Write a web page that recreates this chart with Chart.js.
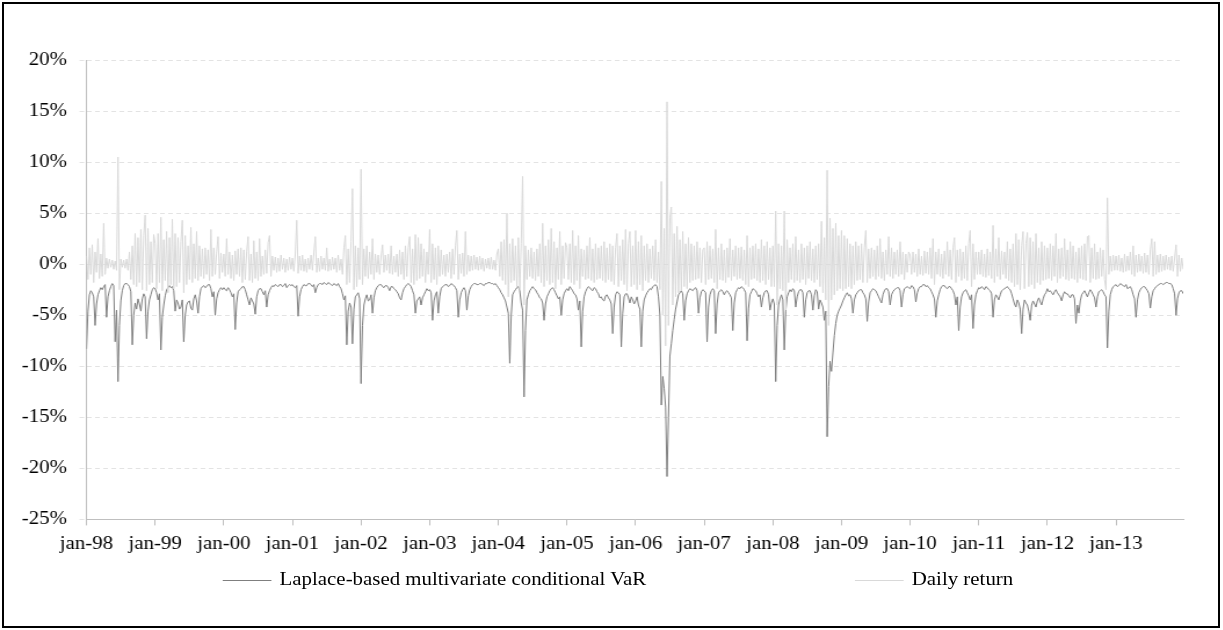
<!DOCTYPE html>
<html>
<head>
<meta charset="utf-8">
<script src="https://cdn.jsdelivr.net/npm/chart.js@4.4.0/dist/chart.umd.min.js"></script>
<style>
  body { margin: 0; background: #fff; }
  #area { position: absolute; left: 0; top: 0; width: 1054px; height: 630px; transform: scaleX(1.16); transform-origin: 0 0; }
  #graficoVaR { position: absolute; left: 0; top: 0; }
  .legenda { position: absolute; top: 568px; font: 18px 'Liberation Serif', 'Times New Roman', serif; line-height: 22px; color: #000; white-space: nowrap; }
  .legenda .linha { display: inline-block; width: 42px; height: 0; border-top: 1px solid; vertical-align: middle; margin-right: 7px; }
  #moldura { position: absolute; left: 2px; top: 2px; width: 1214px; height: 622px; border: 2px solid #000; }
</style>
</head>
<body>
<div id="area">
  <canvas id="graficoVaR" width="1054" height="568"></canvas>
</div>
<div id="moldura"></div>
<script>
const anos = [1998, 1999, 2000, 2001, 2002, 2003, 2004, 2005, 2006, 2007, 2008, 2009, 2010, 2011, 2012, 2013];
const rotulosAnos = anos.map(a => 'jan-' + String(a).slice(2));
const rotulosY = ['-25%', '-20%', '-15%', '-10%', '-5%', '0%', '5%', '10%', '15%', '20%'];
const obsPorAno = 48;

// VaR (%), 48 observações por ano
const varLaplace = [
  -8.3,-4.6,-3.0,-2.6, -2.8,-3.2,-6.0,-3.9, -3.0,-2.6,-2.3,-2.5, -2.2,-2.0,-5.2,-3.2, -2.6,-2.2,-1.9,-2.1, -7.6,-4.5,-11.5,-6.0,
  -3.6,-2.6,-2.1,-1.9, -1.9,-2.0,-2.2,-2.7, -7.9,-5.0,-3.8,-4.4, -3.4,-3.9,-4.6,-3.4, -2.9,-3.2,-7.3,-4.6, -3.5,-3.0,-2.5,-2.3,
  // 1999
  -2.4,-2.8,-3.5,-2.9, -8.4,-5.2,-4.0,-3.1, -2.5,-2.3,-2.1,-2.3, -2.2,-2.6,-4.6,-3.5, -3.8,-4.4,-4.2,-3.5, -7.6,-5.0,-4.0,-3.7,
  -3.6,-4.3,-4.5,-3.4, -3.0,-3.6,-4.8,-3.2, -2.4,-2.2,-2.1,-2.3, -2.2,-2.0,-2.0,-2.4, -3.2,-2.7,-5.0,-3.4, -2.8,-2.5,-2.3,-2.5,
  // 2000
  -2.3,-2.5,-2.6,-2.3, -2.5,-2.8,-3.2,-2.9, -6.4,-3.8,-2.7,-2.5, -2.4,-2.2,-2.2,-2.5, -3.0,-3.5,-4.0,-3.3, -3.6,-3.9,-4.9,-3.2,
  -2.6,-2.4,-2.4,-2.7, -3.0,-2.6,-4.2,-3.0, -2.6,-2.3,-2.1,-2.2, -2.0,-2.1,-2.2,-2.0, -2.0,-2.2,-2.1,-1.9, -2.3,-2.1,-2.0,-2.1,
  // 2001
  -2.0,-2.2,-2.3,-2.1, -5.1,-3.2,-2.5,-2.2, -2.0,-2.1,-2.1,-1.9, -1.9,-2.0,-2.2,-2.0, -2.8,-2.3,-2.0,-1.9, -1.9,-2.0,-1.8,-1.9,
  -2.0,-1.8,-1.9,-2.0, -2.1,-1.9,-2.0,-2.1, -1.9,-2.2,-2.4,-2.9, -3.5,-3.1,-7.9,-4.6, -3.8,-4.2,-7.8,-4.4, -3.2,-3.0,-2.8,-3.4,
  // 2002
  -11.7,-6.0,-4.0,-3.4, -3.0,-3.6,-3.5,-3.0, -4.8,-3.3,-2.6,-2.3, -2.1,-2.0,-2.0,-2.2, -2.3,-2.1,-2.1,-2.3, -2.6,-2.2,-2.2,-2.4,
  -2.5,-2.7,-2.9,-3.3, -3.5,-2.8,-2.4,-2.2, -2.0,-1.9,-2.0,-2.2, -2.6,-3.0,-4.8,-3.6, -3.4,-3.2,-4.0,-3.3, -3.0,-2.7,-2.4,-2.6,
  // 2003
  -2.5,-2.8,-5.5,-3.6, -3.0,-2.7,-4.8,-3.2, -2.4,-2.2,-2.1,-2.0, -2.0,-2.2,-2.1,-1.9, -2.0,-2.1,-2.3,-2.6, -5.2,-3.5,-2.8,-2.5,
  -2.3,-2.6,-4.5,-3.1, -2.5,-2.2,-2.0,-1.9, -1.9,-2.0,-2.0,-1.9, -1.9,-2.0,-2.1,-1.9, -1.9,-1.8,-1.8,-1.9, -1.9,-2.0,-1.9,-2.1,
  // 2004
  -2.3,-2.5,-2.8,-3.0, -3.3,-3.6,-4.2,-4.8, -9.7,-5.0,-3.0,-2.7, -2.5,-2.3,-2.2,-2.6, -3.8,-4.5,-13.0,-6.5, -3.5,-3.0,-2.6,-2.4,
  -2.2,-2.4,-2.5,-2.8, -3.0,-3.3,-3.4,-3.8, -5.5,-3.9,-3.2,-2.9, -2.6,-2.4,-2.3,-2.5, -2.8,-3.1,-3.4,-3.2, -5.0,-3.5,-2.9,-2.6,
  // 2005
  -2.4,-2.6,-2.2,-2.4, -2.6,-2.9,-3.0,-3.4, -4.5,-3.6,-8.1,-4.6, -3.2,-2.7,-2.4,-2.2, -2.3,-2.5,-2.6,-2.3, -2.4,-2.7,-2.9,-3.3,
  -3.2,-3.5,-3.6,-3.1, -3.0,-3.3,-3.5,-3.9, -6.8,-4.2,-3.0,-2.7, -2.8,-3.0,-8.1,-4.8, -3.2,-2.9,-2.9,-3.3, -3.8,-3.2,-3.5,-3.9,
  // 2006
  -3.6,-3.2,-4.0,-4.4, -8.1,-4.6,-3.5,-3.1, -2.8,-2.6,-2.4,-2.5, -2.2,-2.1,-2.0,-2.2, -3.2,-5.0,-13.8,-11.0, -12.2,-14.0,-20.8,-15.0,
  -9.0,-7.8,-6.5,-5.4, -4.4,-3.7,-3.0,-2.8, -2.6,-2.9,-5.5,-3.6, -2.9,-2.6,-2.4,-2.5, -2.6,-2.4,-2.3,-2.6, -4.8,-3.3,-2.7,-2.5,
  // 2007
  -2.6,-2.8,-7.6,-4.2, -3.0,-2.6,-2.4,-2.6, -6.8,-3.9,-2.8,-2.6, -2.5,-2.7,-3.0,-2.7, -2.6,-2.8,-3.0,-3.3, -6.5,-3.8,-2.8,-2.5,
  -2.3,-2.4,-2.2,-2.3, -2.5,-2.8,-7.5,-4.3, -3.0,-2.7,-2.4,-2.5, -2.6,-2.9,-3.2,-3.0, -4.2,-3.3,-2.8,-2.6, -2.6,-3.0,-4.5,-3.8,
  // 2008
  -3.4,-3.9,-11.5,-6.0, -4.0,-3.4,-3.0,-3.5, -8.4,-4.6,-3.2,-2.8, -2.5,-2.7,-2.4,-2.6, -4.2,-3.2,-2.7,-2.5, -2.5,-2.8,-5.2,-3.5,
  -2.8,-2.6,-2.6,-3.0, -4.5,-3.1,-2.5,-2.7, -4.4,-3.5,-3.8,-4.2, -5.5,-4.6,-16.9,-12.0, -9.5,-10.5,-8.7,-7.0, -5.8,-5.0,-4.6,-4.3,
  // 2009
  -4.0,-3.6,-3.3,-3.0, -2.8,-3.1,-3.0,-3.4, -4.8,-3.5,-3.0,-2.8, -2.6,-2.5,-2.5,-2.8, -3.0,-3.4,-5.6,-3.7, -2.8,-2.6,-2.4,-2.5,
  -2.6,-2.9,-3.2,-3.5, -3.8,-3.0,-2.6,-2.4, -2.4,-2.7,-4.0,-3.0, -2.7,-2.5,-2.4,-2.3, -2.3,-2.6,-4.2,-3.0, -2.4,-2.3,-2.2,-2.3,
  // 2010
  -2.4,-2.1,-2.2,-2.5, -3.7,-2.8,-2.4,-2.2, -2.2,-2.0,-2.0,-2.2, -2.1,-2.3,-2.4,-2.7, -3.0,-3.4,-5.2,-3.6, -3.0,-2.5,-2.2,-2.1,
  -2.1,-2.3,-2.4,-2.2, -2.2,-2.4,-2.6,-3.0, -4.0,-3.2,-6.5,-4.2, -3.2,-2.8,-2.6,-2.5, -2.8,-3.1,-3.5,-3.0, -6.3,-4.0,-3.0,-2.6,
  // 2011
  -2.3,-2.4,-2.2,-2.3, -2.5,-2.2,-2.3,-2.5, -2.6,-2.9,-5.2,-3.5, -3.0,-3.2,-3.5,-3.0, -2.6,-2.5,-2.4,-2.3, -2.2,-2.4,-2.5,-2.9,
  -3.4,-3.9,-4.2,-3.5, -3.8,-4.4,-6.8,-4.4, -3.5,-3.8,-4.0,-4.6, -5.5,-4.0,-3.6,-3.9, -4.2,-3.6,-3.3,-3.7, -4.0,-3.4,-3.0,-2.8,
  // 2012
  -2.4,-2.7,-2.6,-2.8, -3.0,-2.7,-2.5,-2.8, -3.0,-3.2,-3.6,-3.0, -2.7,-2.9,-2.9,-3.1, -3.3,-3.0,-3.0,-3.4, -5.8,-4.0,-4.8,-3.6,
  -3.0,-2.8,-2.6,-2.9, -3.2,-2.8,-2.5,-2.7, -3.0,-3.3,-4.2,-3.2, -2.7,-2.6,-2.5,-2.7, -3.0,-3.2,-8.2,-4.6, -3.0,-2.5,-2.2,-2.1,
  // 2013
  -2.0,-2.2,-2.1,-1.9, -2.0,-2.1,-2.2,-2.0, -2.4,-2.3,-2.2,-2.5, -3.0,-3.4,-5.2,-3.5, -2.8,-2.5,-2.3,-2.2, -2.2,-2.4,-2.6,-2.9,
  -4.3,-3.2,-2.6,-2.4, -2.2,-2.1,-2.0,-1.9, -1.9,-2.0,-1.9,-1.8, -1.8,-1.9,-1.9,-2.0, -2.4,-2.9,-5.0,-3.4, -2.8,-2.6,-2.6,-2.9
];

// retorno diário (%), 48 observações por ano
const retornoDiario = [
  0.8,-1.5,1.6,-1.0,1.9,-1.8,1.2,-0.8,2.5,-1.4,1.0,-1.2,
  4.0,-1.0,0.6,-0.4,0.5,-0.3,0.4,-0.5,0.3,-0.6,10.5,-2.5,
  0.5,-0.3,0.4,-0.4,0.5,-0.6,1.2,-1.5,1.8,-2.0,3.0,-2.2,
  2.6,-1.8,3.4,-2.5,2.8,4.8,-2.6,3.5,-2.0,2.2,-1.8,2.9,
  // 1999
  2.0,-2.4,3.0,-1.8,4.6,-2.6,2.4,-1.6,3.2,-2.8,2.6,-2.0,
  4.4,-2.4,3.0,-2.2,2.6,-1.8,2.2,4.3,-2.8,2.8,-2.0,1.8,
  -1.5,3.6,-1.8,2.0,-1.4,3.2,-1.6,1.8,-1.2,1.5,-1.4,1.6,
  -1.0,1.4,-1.6,3.4,-1.2,1.6,-1.0,1.2,2.7,-1.4,1.1,-0.8,
  // 2000
  1.0,-1.2,2.5,-1.0,1.2,-1.4,0.9,-1.6,1.3,-1.0,1.5,-1.2,
  1.6,-1.8,1.4,-1.5,1.2,2.7,-1.6,1.0,-1.8,2.3,-1.4,1.2,
  -1.6,2.5,-1.2,0.8,-1.0,1.4,-0.9,2.1,2.8,-1.2,0.8,-0.6,
  0.7,-0.8,0.6,-0.7,0.9,-0.5,0.6,-0.8,0.5,-0.6,0.7,-0.5,
  // 2001
  0.6,-0.7,1.0,4.3,-0.9,0.8,-0.6,0.9,-0.7,0.5,-0.8,0.6,
  -0.5,0.9,-0.6,1.1,2.7,-0.8,0.6,-0.7,0.8,-0.5,0.6,-0.6,
  1.6,-0.7,0.5,-0.6,0.7,-0.5,0.6,-0.8,0.9,-0.6,0.5,-1.0,
  1.6,2.8,-2.0,1.5,-1.8,2.2,7.4,-2.5,1.8,-2.2,1.6,-1.5,
  // 2002
  9.3,-2.0,1.5,-1.2,1.8,-1.4,1.2,-1.0,2.5,-1.5,1.0,-0.8,
  0.9,-1.0,0.7,1.9,-0.8,0.9,-0.6,1.0,-0.9,1.8,-1.0,0.8,
  -0.8,1.0,-1.2,1.4,-1.0,1.2,-1.5,1.8,-1.2,1.6,2.7,-1.8,
  1.5,-2.0,2.9,-1.6,2.6,-1.4,2.0,-1.2,1.5,-1.8,1.2,-1.0,
  // 2003
  3.4,-1.8,2.0,-1.5,1.6,-2.0,1.8,-1.2,1.4,-1.0,0.9,-1.2,
  1.0,-0.8,1.2,-1.4,1.5,-1.0,1.8,3.3,-1.5,1.0,-0.9,1.1,
  -1.2,3.2,-1.0,0.9,-0.7,0.8,-0.6,0.9,-0.5,0.7,-0.6,0.8,
  -0.5,0.6,-0.7,0.5,-0.4,0.6,-0.5,0.7,-0.5,0.4,-0.6,1.0,
  // 2004
  1.5,-1.2,2.2,-1.6,2.4,-2.0,5.0,-3.2,2.0,-1.8,2.5,-1.6,
  1.8,-2.2,2.6,-2.5,2.0,8.6,-4.0,1.8,-1.5,1.4,-1.2,1.6,
  -1.4,1.2,-1.6,1.5,-1.2,2.0,-1.8,4.0,-2.2,1.8,-1.6,2.4,
  -2.0,3.5,-1.8,2.2,-2.4,1.6,-1.5,3.2,-2.0,1.8,-1.4,2.1,
  // 2005
  1.6,-1.5,2.0,-1.8,3.3,-2.0,1.8,-1.6,2.8,-2.4,1.5,-1.2,
  1.4,-1.5,1.8,-1.4,2.6,-1.6,1.5,-1.8,2.0,-1.5,1.6,-1.4,
  1.8,-1.6,2.2,-1.8,1.6,-1.5,2.0,-1.7,1.8,-2.0,1.6,3.0,
  -2.2,1.8,-1.6,2.4,-2.0,3.4,-2.6,2.0,3.2,-2.2,1.8,-2.0,
  // 2006
  3.3,-2.5,2.2,-2.0,2.8,-2.6,1.8,-1.6,2.0,-1.8,1.5,-1.4,
  1.8,-1.6,2.4,-1.8,1.2,-2.5,8.1,-5.0,3.5,-8.0,15.9,-6.0,
  4.6,5.6,-4.0,3.0,-3.2,3.7,-2.8,2.4,-2.6,3.2,-2.2,2.0,
  -2.4,2.6,-1.8,2.0,-1.6,1.8,-1.5,2.2,-1.4,1.6,-1.8,1.4,
  // 2007
  1.6,-2.0,2.2,-1.5,1.8,-1.4,1.5,-1.8,3.4,-2.4,1.6,-1.5,
  2.0,-1.6,1.4,-1.8,1.6,-1.3,2.5,-1.6,1.4,-1.2,1.8,-1.5,
  1.6,-1.4,1.7,-1.6,1.4,-2.0,2.8,-2.2,1.6,-1.5,1.8,-1.4,
  2.0,-1.6,1.5,-1.8,2.4,-1.6,1.8,-2.0,2.2,-1.5,1.6,-2.2,
  // 2008
  1.8,-2.2,5.2,-4.0,2.0,-2.4,1.8,-2.6,5.2,-4.5,2.4,-1.8,
  1.6,-1.5,2.0,-1.8,2.7,-1.6,1.4,-1.8,2.0,-1.5,1.6,-2.0,
  1.8,-1.4,2.2,-1.6,1.5,-1.8,1.8,-1.5,2.0,-2.2,4.2,-2.8,
  2.6,-3.5,9.2,-6.0,4.5,-3.5,3.5,-3.0,4.0,-2.6,2.8,-2.4,
  // 2009
  3.3,-2.6,2.8,-2.4,2.5,-2.2,2.0,-2.4,1.8,-2.0,2.2,-1.6,
  1.8,-1.5,2.0,-1.8,1.6,3.3,-1.8,1.5,-1.4,1.6,-1.2,1.4,
  -1.5,1.8,-1.2,2.5,-1.4,1.2,-1.6,1.4,-1.0,2.7,-1.2,1.6,
  -1.4,1.2,-1.0,1.4,-1.2,2.2,-1.0,1.2,-1.5,1.0,-0.8,1.2,
  // 2010
  0.9,-1.0,1.2,-0.8,1.0,-1.2,1.5,-1.0,0.8,-1.1,1.3,-0.9,
  1.2,-1.0,1.6,-1.4,2.5,-2.0,1.2,-1.0,1.5,-1.2,1.0,-1.4,
  1.3,-1.0,2.2,-1.2,1.4,-1.5,1.6,2.6,-1.8,1.4,-1.2,1.5,
  -1.6,1.2,-1.4,1.8,-1.6,2.0,3.3,-2.2,2.0,-1.5,1.2,-1.0,
  // 2011
  1.2,-1.0,1.4,-1.2,1.0,-1.3,1.5,-1.1,1.2,-1.4,3.8,-1.8,
  1.5,-1.2,2.6,-1.5,1.3,-1.0,1.2,-1.4,2.2,-1.6,1.5,-1.8,
  2.0,-2.2,3.0,-2.0,2.4,-2.5,1.8,3.2,-2.4,2.0,3.1,-2.2,
  2.6,-2.0,2.2,-2.4,3.0,-1.8,1.6,-2.0,2.2,-1.6,1.8,-1.5,
  // 2012
  1.6,-1.4,2.0,-1.6,1.8,-1.2,3.0,-1.8,1.5,-1.4,1.6,-1.2,
  2.5,-1.5,1.4,-1.6,2.2,-1.4,1.8,-1.5,1.2,-1.8,1.6,-1.4,
  1.8,-1.5,2.0,-1.6,2.7,2.8,-1.8,1.6,-1.4,2.0,-1.5,1.2,
  -1.4,1.6,-1.2,1.4,-1.5,-2.5,6.5,-1.0,0.8,-0.7,0.9,-0.6,
  // 2013
  0.8,-0.6,0.9,-0.7,0.6,-0.8,1.0,-0.7,0.8,-0.6,1.2,-1.0,
  1.8,-1.2,0.9,-0.8,1.0,-0.7,0.8,-0.9,1.1,-0.8,0.9,-1.0,
  1.4,2.5,-1.2,2.2,-1.0,0.9,-0.8,1.0,-0.7,0.8,-0.6,0.9,
  -0.5,0.7,-0.6,0.8,-0.7,0.6,1.9,-1.2,0.9,-0.7,0.6,-0.5
];

const fonteSerif = { family: "'Liberation Serif', 'Times New Roman', serif", size: 18 };

//Gráfico de linhas: VaR e retorno diário
const ctxVaR = document.getElementById('graficoVaR').getContext('2d');
const graficoVaR = new Chart(ctxVaR, {
    type: 'line',
    data: {
        datasets: [{
            label: 'Laplace-based multivariate conditional VaR',
            data: varLaplace.map((v, i) => ({ x: anos[0] + i / obsPorAno, y: v })),
            borderColor: '#7f7f7f',
            borderWidth: 1,
            pointRadius: 0,
            order: 1
        }, {
            label: 'Daily return',
            data: retornoDiario.map((v, i) => ({ x: anos[0] + i / obsPorAno, y: v })),
            borderColor: '#d9d9d9',
            borderWidth: 1,
            pointRadius: 0,
            order: 0
        }]
    },
    options: {
        responsive: false,
        animation: false,
        layout: {
            padding: { left: 8, right: 34, top: 60, bottom: 5 }
        },
        plugins: {
            legend: { display: false },
            tooltip: { enabled: false }
        },
        scales: {
            x: {
                type: 'linear',
                min: anos[0],
                max: anos[0] + (retornoDiario.length - 1) / obsPorAno,
                afterBuildTicks: (scale) => { scale.ticks = anos.map(a => ({ value: a })); },
                ticks: {
                    autoSkip: false,
                    maxRotation: 0,
                    padding: 8,
                    color: '#000',
                    font: fonteSerif,
                    callback: (value) => rotulosAnos[anos.indexOf(value)]
                },
                grid: { drawOnChartArea: false, tickLength: 6, color: '#bfbfbf' },
                border: { color: '#bfbfbf' }
            },
            y: {
                min: -25,
                max: 20,
                ticks: {
                    stepSize: 5,
                    padding: 10.8,
                    color: '#000',
                    font: fonteSerif,
                    callback: (value) => rotulosY[(value + 25) / 5]
                },
                grid: { color: '#e3e3e3', tickLength: 6, tickColor: '#e3e3e3', tickBorderDash: [4, 3] },
                border: { color: '#bfbfbf', dash: [4, 3] }
            }
        }
    }
});

// legenda em HTML
const posicoesLegenda = [192, 737];
graficoVaR.data.datasets.forEach((ds, i) => {
    const item = document.createElement('div');
    item.className = 'legenda';
    item.style.left = posicoesLegenda[i] + 'px';
    const linha = document.createElement('span');
    linha.className = 'linha';
    linha.style.borderTopColor = ds.borderColor;
    item.appendChild(linha);
    item.appendChild(document.createTextNode(ds.label));
    document.getElementById('area').appendChild(item);
});
</script>
</body>
</html>
